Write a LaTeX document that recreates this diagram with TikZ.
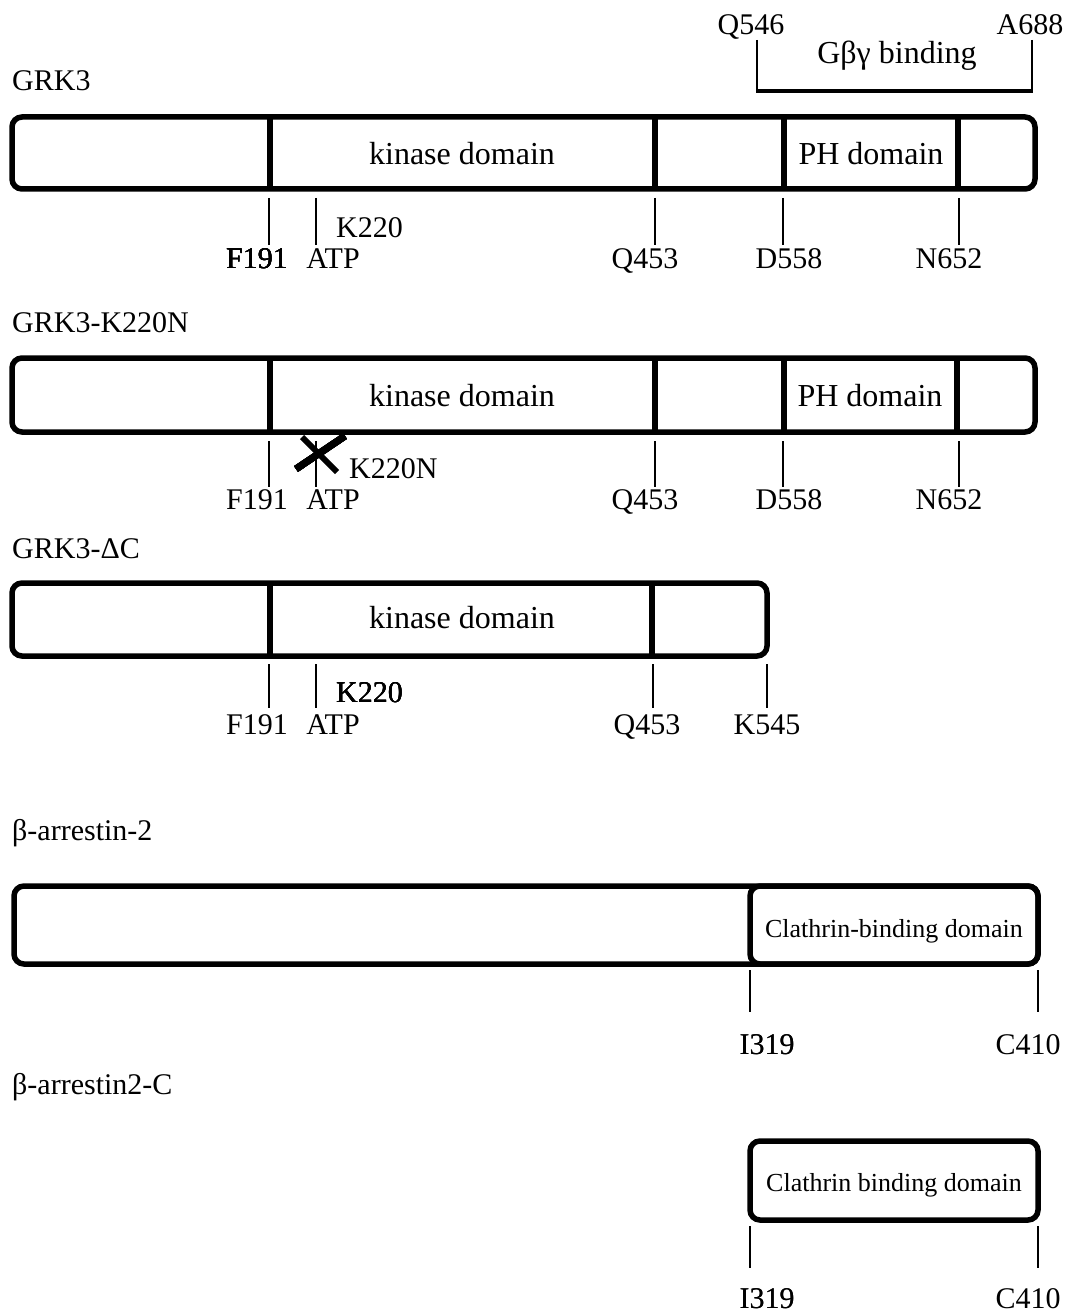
\documentclass[tikz,border=0pt]{standalone}
\usepackage{fontspec}
\setmainfont{Liberation Serif}
\newcommand\labfont{\fontsize{30}{36}\selectfont}
\newcommand\domfont{\fontsize{32}{38}\selectfont}
\newcommand\clafont{\fontsize{26}{31}\selectfont}
\tikzset{
  boxline/.style={line width=5.5pt, rounded corners=10pt},
  divline/.style={line width=5.5pt},
  tickline/.style={line width=2pt},
  lab/.style={font=\labfont, inner sep=0pt, anchor=base},
  labw/.style={font=\labfont, inner sep=0pt, anchor=base west},
  dom/.style={font=\domfont, inner sep=0pt, anchor=base},
  cla/.style={font=\clafont, inner sep=0pt, anchor=base},
}
\newcommand\tk[3]{\draw[tickline] (#1,#2) -- (#1,#3);}
\begin{document}
\begin{tikzpicture}[x=1pt,y=-1pt]
\useasboundingbox (0,0) rectangle (1077,1313);
% ---------------- GRK3 ----------------
\node[labw] (t1) at (12,91) {GRK3};
\node[lab] (q546) at (751,35) {Q546};
\node[lab] (a688) at (1030,35) {A688};
\node[dom] (gbg) at (897,64) {Gβγ binding};
\draw[tickline] (757,40) -- (757,91);
\draw[tickline] (1032,40) -- (1032,91);
\draw[line width=4pt] (756,91) -- (1033,91);
\draw[boxline] (12,117) rectangle (1035,189);
\foreach \x in {270,655,784,958} \draw[divline] (\x,117) -- (\x,189);
\node[dom] (k1) at (462,165) {kinase domain};
\node[dom] (ph1) at (871,165) {PH domain};
\foreach \x in {269,316,655,783,959} \tk{\x}{198}{245}
\node[lab] (f1) at (257,269) {F191};
\node[lab] (atp1) at (333,269) {ATP};
\node[labw] (k220a) at (336,238) {K220};
\node[lab] (q1) at (645,269) {Q453};
\node[lab] (d1) at (789,269) {D558};
\node[lab] (n1) at (949,269) {N652};
% ---------------- GRK3-K220N ----------------
\node[labw] (t2) at (12,332) {GRK3-K220N};
\draw[boxline] (12,358) rectangle (1035,432);
\foreach \x in {270,655,784,957} \draw[divline] (\x,358) -- (\x,432);
\node[dom] (k2) at (462,406) {kinase domain};
\node[dom] (ph2) at (870,406) {PH domain};
\foreach \x in {269,316,655,783,959} \tk{\x}{441}{487}
\draw[line width=7pt] (296,469) -- (345,436);
\draw[line width=6pt] (302,437) -- (337,472);
\node[labw] (k220n) at (349,478) {K220N};
\node[lab] (f2) at (257,509) {F191};
\node[lab] (atp2) at (333,509) {ATP};
\node[lab] (q2) at (645,509) {Q453};
\node[lab] (d2) at (789,509) {D558};
\node[lab] (n2) at (949,509) {N652};
% ---------------- GRK3-DeltaC ----------------
\node[labw] (t3) at (12,558) {GRK3-ΔC};
\draw[boxline] (12,583) rectangle (767,656);
\foreach \x in {270,652} \draw[divline] (\x,583) -- (\x,656);
\node[dom] (k3) at (462,628) {kinase domain};
\foreach \x in {269,316,653,767} \tk{\x}{664}{708}
\node[labw] (k220c) at (336,702) {K220};
\node[lab] (f3) at (257,734) {F191};
\node[lab] (atp3) at (333,734) {ATP};
\node[lab] (q3) at (647,734) {Q453};
\node[lab] (k545) at (767,734) {K545};
% ---------------- beta-arrestin-2 ----------------
\node[labw] (t4) at (12,840) {β-arrestin-2};
\draw[boxline] (14,886) rectangle (1038,964);
\draw[boxline] (750,886) rectangle (1038,964);
\node[cla] (cbd1) at (894,937) {Clathrin-binding domain};
\foreach \x in {750,1038} \tk{\x}{970}{1012}
\node[lab] (i1) at (767,1054) {I319};
\node[lab] (c1) at (1028,1054) {C410};
% ---------------- beta-arrestin2-C ----------------
\node[labw] (t5) at (12,1094) {β-arrestin2-C};
\draw[boxline] (750,1141) rectangle (1038,1220);
\node[cla] (cbd2) at (894,1191) {Clathrin binding domain};
\foreach \x in {750,1038} \tk{\x}{1226}{1268}
\node[lab] (i2) at (767,1308) {I319};
\node[lab] (c2) at (1028,1308) {C410};
\end{tikzpicture}
\end{document}
